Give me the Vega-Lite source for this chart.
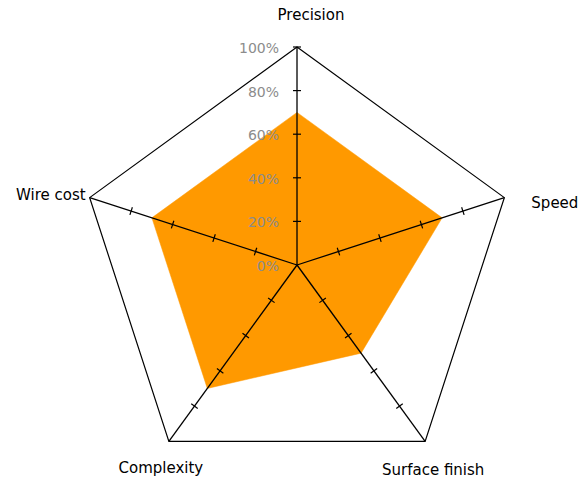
{
  "$schema": "https://vega.github.io/schema/vega-lite/v6.json",
  "width": 584,
  "height": 479,
  "autosize": {"type": "none"},
  "padding": 0,
  "background": "white",
  "config": {"view": {"stroke": null}},
  "datasets": {
    "main": [
      {"axis": "Precision", "order": 0, "value": 0.7},
      {"axis": "Speed", "order": 1, "value": 0.7},
      {"axis": "Surface finish", "order": 2, "value": 0.5},
      {"axis": "Complexity", "order": 3, "value": 0.7},
      {"axis": "Wire cost", "order": 4, "value": 0.7}
    ],
    "ticks": [
      {"order": 0, "level": 0.2}, {"order": 0, "level": 0.4}, {"order": 0, "level": 0.6}, {"order": 0, "level": 0.8}, {"order": 0, "level": 1.0},
      {"order": 1, "level": 0.2}, {"order": 1, "level": 0.4}, {"order": 1, "level": 0.6}, {"order": 1, "level": 0.8},
      {"order": 2, "level": 0.2}, {"order": 2, "level": 0.4}, {"order": 2, "level": 0.6}, {"order": 2, "level": 0.8},
      {"order": 3, "level": 0.2}, {"order": 3, "level": 0.4}, {"order": 3, "level": 0.6}, {"order": 3, "level": 0.8},
      {"order": 4, "level": 0.2}, {"order": 4, "level": 0.4}, {"order": 4, "level": 0.6}, {"order": 4, "level": 0.8}
    ],
    "levels": [
      {"level": 0}, {"level": 0.2}, {"level": 0.4}, {"level": 0.6}, {"level": 0.8}, {"level": 1.0}
    ]
  },
  "data": {"name": "main"},
  "transform": [
    {"calculate": "datum.order * 2 * PI / 5", "as": "ang"},
    {"calculate": "datum.value * sin(datum.ang)", "as": "px"},
    {"calculate": "datum.value * cos(datum.ang)", "as": "py"},
    {"calculate": "sin(datum.ang)", "as": "ox"},
    {"calculate": "cos(datum.ang)", "as": "oy"}
  ],
  "resolve": {"scale": {"x": "shared", "y": "shared"}},
  "layer": [
    {
      "mark": {"type": "line", "interpolate": "linear-closed", "fill": "#FF9900", "stroke": "#FF9900", "strokeWidth": 0.5},
      "encoding": {
        "x": {"field": "px", "type": "quantitative", "scale": {"domain": [-1.3624, 1.3165], "nice": false, "zero": false}, "axis": null},
        "y": {"field": "py", "type": "quantitative", "scale": {"domain": [-0.9817, 1.2156], "nice": false, "zero": false}, "axis": null},
        "order": {"field": "order"}
      }
    },
    {
      "mark": {"type": "rule", "color": "#000000", "strokeWidth": 1.3},
      "encoding": {
        "x": {"field": "ox", "type": "quantitative"},
        "y": {"field": "oy", "type": "quantitative"},
        "x2": {"datum": 0},
        "y2": {"datum": 0}
      }
    },
    {
      "mark": {"type": "line", "interpolate": "linear-closed", "stroke": "#000000", "strokeWidth": 1.2},
      "encoding": {
        "x": {"field": "ox", "type": "quantitative"},
        "y": {"field": "oy", "type": "quantitative"},
        "order": {"field": "order"}
      }
    },
    {
      "data": {"name": "ticks"},
      "transform": [
        {"calculate": "datum.order * 2 * PI / 5", "as": "ang"},
        {"calculate": "datum.level * sin(datum.ang)", "as": "tx"},
        {"calculate": "datum.level * cos(datum.ang)", "as": "ty"},
        {"calculate": "datum.order * 72", "as": "deg"}
      ],
      "mark": {"type": "point", "shape": "stroke", "filled": false, "stroke": "#000000", "strokeWidth": 1.2, "size": 64, "opacity": 1},
      "encoding": {
        "x": {"field": "tx", "type": "quantitative"},
        "y": {"field": "ty", "type": "quantitative"},
        "angle": {"field": "deg", "type": "quantitative", "scale": null}
      }
    },
    {
      "data": {"name": "levels"},
      "mark": {"type": "text", "align": "right", "baseline": "middle", "dx": -18, "dy": 2, "font": "DejaVu Sans", "fontSize": 14, "color": "#8c8c8c"},
      "encoding": {
        "x": {"datum": 0, "type": "quantitative"},
        "y": {"field": "level", "type": "quantitative"},
        "text": {"field": "level", "type": "quantitative", "format": ".0%"}
      }
    },
    {
      "transform": [{"filter": "datum.axis === 'Precision'"}],
      "mark": {"type": "text", "align": "center", "baseline": "middle", "dx": 14, "dy": -32, "font": "DejaVu Sans", "fontSize": 15, "color": "#000000"},
      "encoding": {"x": {"field": "ox", "type": "quantitative"}, "y": {"field": "oy", "type": "quantitative"}, "text": {"field": "axis"}}
    },
    {
      "transform": [{"filter": "datum.axis === 'Speed'"}],
      "mark": {"type": "text", "align": "left", "baseline": "middle", "dx": 27, "dy": 5, "font": "DejaVu Sans", "fontSize": 15, "color": "#000000"},
      "encoding": {"x": {"field": "ox", "type": "quantitative"}, "y": {"field": "oy", "type": "quantitative"}, "text": {"field": "axis"}}
    },
    {
      "transform": [{"filter": "datum.axis === 'Wire cost'"}],
      "mark": {"type": "text", "align": "right", "baseline": "middle", "dx": -4, "dy": -3, "font": "DejaVu Sans", "fontSize": 15, "color": "#000000"},
      "encoding": {"x": {"field": "ox", "type": "quantitative"}, "y": {"field": "oy", "type": "quantitative"}, "text": {"field": "axis"}}
    },
    {
      "transform": [{"filter": "datum.axis === 'Complexity'"}],
      "mark": {"type": "text", "align": "center", "baseline": "middle", "dx": -8, "dy": 27, "font": "DejaVu Sans", "fontSize": 15, "color": "#000000"},
      "encoding": {"x": {"field": "ox", "type": "quantitative"}, "y": {"field": "oy", "type": "quantitative"}, "text": {"field": "axis"}}
    },
    {
      "transform": [{"filter": "datum.axis === 'Surface finish'"}],
      "mark": {"type": "text", "align": "center", "baseline": "middle", "dx": 8, "dy": 29, "font": "DejaVu Sans", "fontSize": 15, "color": "#000000"},
      "encoding": {"x": {"field": "ox", "type": "quantitative"}, "y": {"field": "oy", "type": "quantitative"}, "text": {"field": "axis"}}
    }
  ]
}
